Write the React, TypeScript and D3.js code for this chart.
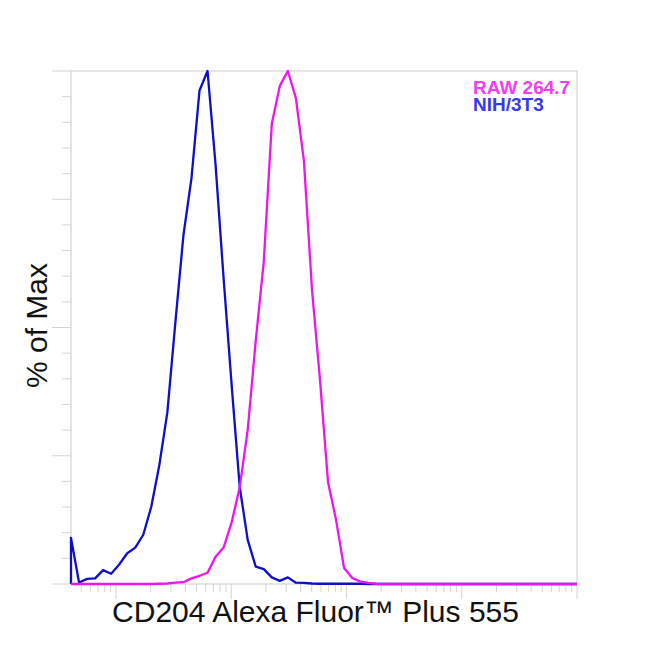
import React from "react"
import * as d3 from "d3"

// histogram bins, evenly spaced in log10 units across the x axis
const logMin = 1.61
const logMax = 6
const binCount = 64

// % of Max per bin
const nih3t3 = [
  9.0, 0.3, 1.0, 1.1, 2.7, 2.0, 3.8, 6.0, 7.1, 9.6, 15.1, 23.2, 33.5, 51.1, 68.0, 79.1,
  96.2, 100, 81.7, 59.6, 38.8, 19.0, 8.6, 3.4, 2.9, 1.3, 0.6, 1.3, 0.25, 0.2, 0.1, 0.05,
  0.05, 0.05, 0.05, 0.05, 0.05, 0, 0, 0, 0, 0, 0, 0, 0, 0, 0, 0,
  0, 0, 0, 0, 0, 0, 0, 0, 0, 0, 0, 0, 0, 0, 0, 0,
]
const raw2647 = [
  0, 0, 0, 0, 0, 0, 0, 0, 0, 0, 0, 0.05, 0.1, 0.25, 0.35, 1.1,
  1.6, 2.2, 5.3, 7.1, 12.0, 18.8, 30.0, 47.4, 62.8, 89.7, 97.1, 100, 94.7, 82.5, 57.5, 39.8,
  19.9, 12.5, 3.1, 1.2, 0.5, 0.2, 0.05, 0, 0, 0, 0, 0, 0, 0, 0, 0,
  0, 0, 0, 0, 0, 0, 0, 0, 0, 0, 0, 0, 0, 0, 0, 0,
]

const series = [
  { name: "NIH/3T3", values: nih3t3, color: "#0e0ecc", legendColor: "#3838ee" },
  { name: "RAW 264.7", values: raw2647, color: "#ee14ee", legendColor: "#f53cf0" },
]
const legendOrder = ["RAW 264.7", "NIH/3T3"]

const yTicks = d3.range(0, 101, 5)
const decades = [1, 2, 3, 4, 5, 6]

export default function App() {
  const width = 650
  const height = 650
  const margin = { top: 71, right: 73, bottom: 66, left: 71 }
  const innerW = width - margin.left - margin.right
  const innerH = height - margin.top - margin.bottom

  const x = d3.scaleLog().domain([10 ** logMin, 10 ** logMax]).range([0, innerW])
  const y = d3.scaleLinear().domain([0, 100]).range([innerH, 0])

  const binX = d3.range(binCount).map((i) => 10 ** (logMin + (i * (logMax - logMin)) / (binCount - 1)))

  const line = d3
    .line<[number, number]>()
    .x((d) => x(d[0]))
    .y((d) => y(d[1]))

  const pathFor = (values: number[]) => {
    const pts: [number, number][] = values.map((v, i) => [binX[i], v])
    return line([[binX[0], 0], ...pts, [binX[binCount - 1], 0]])
  }

  // log ticks: decades are major, 2..9 are minor
  const xTicks: { v: number; major: boolean }[] = []
  decades.forEach((k) => {
    for (let m = 1; m <= 9; m++) {
      const v = m * 10 ** k
      if (v >= 10 ** logMin && v <= 10 ** logMax * 1.0001) xTicks.push({ v, major: m === 1 })
    }
  })

  const axisColor = "#d4d4d4"
  const font = "'Liberation Sans', Arial, sans-serif"

  return (
    <svg
      width={width}
      height={height}
      style={{ position: "absolute", left: 0, top: 0, background: "#fff" }}
    >
      <g transform={`translate(${margin.left},${margin.top})`}>
        {/* frame */}
        <rect x={0} y={0} width={innerW} height={innerH} fill="none" stroke={axisColor} strokeWidth={1.2} />

        {/* y ticks */}
        {yTicks.map((t) => (
          <line
            key={"y" + t}
            x1={t % 25 === 0 ? -19 : -9}
            x2={0}
            y1={y(t)}
            y2={y(t)}
            stroke={axisColor}
            strokeWidth={1}
          />
        ))}

        {/* x ticks */}
        {xTicks.map((t) => (
          <line
            key={"x" + t.v}
            x1={x(t.v)}
            x2={x(t.v)}
            y1={innerH}
            y2={innerH + (t.major ? 15 : 8)}
            stroke={axisColor}
            strokeWidth={1}
          />
        ))}

        {/* histograms */}
        {series.map((s) => (
          <path
            key={s.name}
            d={pathFor(s.values) || ""}
            fill="none"
            stroke={s.color}
            strokeWidth={2.3}
            strokeLinejoin="round"
          />
        ))}

        {/* legend */}
        <text x={402} y={23} fontFamily={font} fontWeight="bold" fontSize={19}>
          {legendOrder.map((name, i) => {
            const s = series.find((d) => d.name === name)!
            return (
              <tspan key={name} x={402} dy={i === 0 ? 0 : 16.5} fill={s.legendColor}>
                {name}
              </tspan>
            )
          })}
        </text>

        {/* axis titles */}
        <text
          x={innerW / 2 - 8.5}
          y={innerH + 38}
          textAnchor="middle"
          fontFamily={font}
          fontSize={30}
          fill="#111"
        >
          CD204 Alexa Fluor™ Plus 555
        </text>
        <text
          transform={`translate(${-24},${innerH / 2 - 2}) rotate(-90)`}
          textAnchor="middle"
          fontFamily={font}
          fontSize={30}
          fill="#111"
        >
          % of Max
        </text>
      </g>
    </svg>
  )
}
